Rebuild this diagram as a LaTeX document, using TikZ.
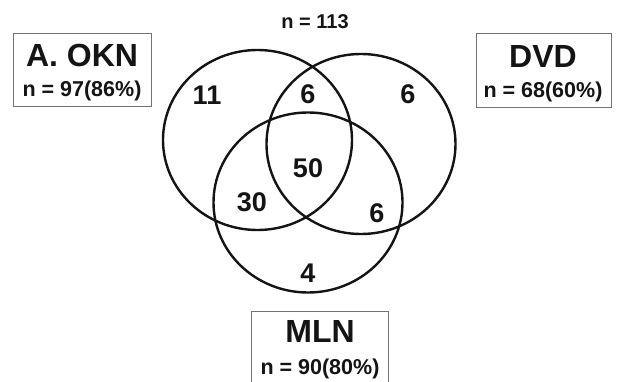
\documentclass[tikz,border=0pt]{standalone}
\usepackage{fontspec}
\setmainfont{Liberation Sans}
\usetikzlibrary{shapes.geometric}

\begin{document}
\begin{tikzpicture}[x=1pt, y=-1pt, every node/.style={text=black!92}, set/.style={draw=black!92, line width=2.4pt, ellipse, minimum width=189pt, minimum height=180pt, inner sep=0pt}, tag/.style={draw=black!55, line width=0.9pt}, title/.style={font=\bfseries\fontsize{32}{32}\selectfont, anchor=base}, count/.style={font=\bfseries\fontsize{21.5}{22}\selectfont, anchor=base}, region/.style={font=\bfseries\fontsize{27}{27}\selectfont}]
\useasboundingbox[fill=white] (0,0) rectangle (618,382);
% the three sets
\node[set] (okn) at (257.5,140) {};
\node[set] (dvd) at (361,144) {};
\node[set] (mln) at (308,202.5) {};
% counts in each region
\node[region] (oknonly) at (207,95) {11};
\node[region] (okndvd) at (308,94) {6};
\node[region] (dvdonly) at (408,94) {6};
\node[region] (all) at (308,168) {50};
\node[region] (oknmln) at (252,202) {30};
\node[region] (dvdmln) at (377,213) {6};
\node[region] (mlnonly) at (308,273) {4};
\node[font=\bfseries\fontsize{20}{20}\selectfont] (total) at (315,22) {n = 113};
% labels
\draw[tag] (13,33) rectangle (151,106);
\node[title] (oknname) at (82,66.7) {A. OKN};
\node[count] (okncount) at (82,96.7) {n = 97(86\%)};
\draw[tag] (476,33) rectangle (611,107);
\node[title] (dvdname) at (543,67.5) {DVD};
\node[count] (dvdcount) at (543,98) {n = 68(60\%)};
\draw[tag] (251,311) rectangle (388,392);
\node[title] (mlnname) at (320,342) {MLN};
\node[count] (mlncount) at (320,374) {n = 90(80\%)};
\end{tikzpicture}
\end{document}
